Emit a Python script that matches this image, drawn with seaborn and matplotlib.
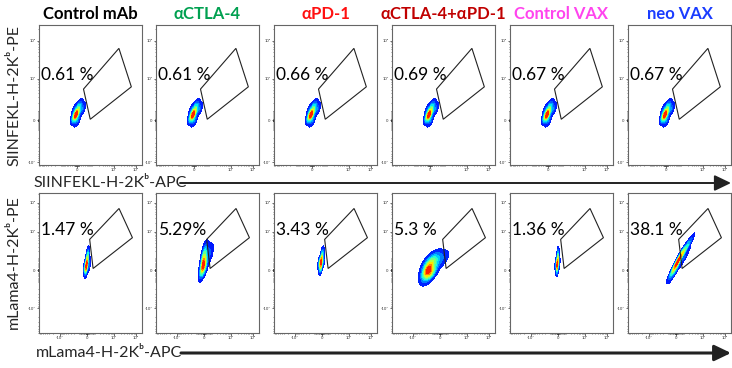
import numpy as np
import matplotlib
matplotlib.use("Agg")
import matplotlib.pyplot as plt
from matplotlib.colors import ListedColormap
from matplotlib.patches import Polygon, FancyArrowPatch
import seaborn as sns

# ---------------- data ----------------
groups = ["Control mAb", "αCTLA-4", "αPD-1", "αCTLA-4+αPD-1", "Control VAX", "neo VAX"]
group_colors = ["#000000", "#00a050", "#ff1010", "#c00000", "#ff44ee", "#1a3cff"]
top_pct = ["0.61 %", "0.61 %", "0.66 %", "0.69 %", "0.67 %", "0.67 %"]
bot_pct = ["1.47 %", "5.29%", "3.43 %", "5.3 %", "1.36 %", "38.1 %"]

top_x_label = "SIINFEKL-H-2Kᵇ-APC"
top_y_label = "SIINFEKL-H-2Kᵇ-PE"
bot_x_label = "mLama4-H-2Kᵇ-APC"
bot_y_label = "mLama4-H-2Kᵇ-PE"

# gates (fluorescence units)
top_gate_x = [310, 16800, 62000, 780]
top_gate_y = [5200, 63000, 6000, 100]
bot_gate_x = [330, 16800, 70000, 780]
bot_gate_y = [5400, 64000, 6200, 120]

# representative events (fluorescence units) with weights
top_ev_x = [-37, -93, 18, 46, 112, 243, -74]
top_ev_y = [486, 372, 0, 973, 1586, 1196, 1105]
top_ev_w = [4, 1.5, 1, 2, 1.2, 1, 0.8]

b1_x = [-76, 0, 76, 101, -256, 256, -76]
b1_y = [263, 649, 1158, 1663, 218, 448, 0]
b1_w = [4, 2.5, 1.5, 0.8, 1, 1, 1]
b2_x = [-76, -51, 0, 127, 525, 886, -204, 204]
b2_y = [263, 703, 1338, 2262, 1847, 1754, 0, 331]
b2_w = [4, 2.5, 1.5, 1, 0.8, 0.6, 1, 1]
b3_x = [-127, -127, 0, 51, -308, 152]
b3_y = [572, 174, 1057, 1754, 572, 703]
b3_w = [4, 1.5, 2, 1, 1, 1]
b4_x = [-1796, -1796, -2052, -985, -256, 388, -985]
b4_y = [0, -448, 448, 842, 932, 932, -108]
b4_w = [4, 1.2, 1, 1.5, 1, 0.5, 1.5]
b5_x = [-76, -76, 0, 0, -230, 127]
b5_y = [448, 108, 993, 1663, 497, 572]
b5_w = [4, 1.5, 2, 0.8, 0.8, 0.8]
b6_x = [-51, -127, 204, 581, 1163, 1946, 610, 1111]
b6_y = [263, -108, 703, 1262, 2151, 3503, 1573, 1108]
b6_w = [4, 1.2, 2.5, 2, 1.5, 1, 0.8, 0.8]
bot_events = [(b1_x, b1_y, b1_w), (b2_x, b2_y, b2_w), (b3_x, b3_y, b3_w),
              (b4_x, b4_y, b4_w), (b5_x, b5_y, b5_w), (b6_x, b6_y, b6_w)]

# display (arcsinh) cofactors and axis limits
top_cx, top_cy = 400, 1600
bot_cx, bot_cy = 1100, 940
top_xlim, top_ylim = (-1.05e4, 1.9e5), (-1.2e4, 2.6e5)
bot_xlim, bot_ylim = (-9e4, 1.94e5), (-7.1e4, 2.2e5)

# ---------------- style ----------------
sns.set_theme(style="white")
plt.rcParams['font.family'] = ['Lato', 'DejaVu Sans']

jet = ListedColormap(plt.cm.jet(np.linspace(0.12, 0.93, 256)))


def T(v, c):
    return np.arcsinh(np.asarray(v, dtype=float) / c) / np.log(10)


W, H = 732, 368
fig = plt.figure(figsize=(W / 100, H / 100), dpi=100)

lefts = [39, 156, 274, 392, 510, 628]
pw = 103
rows = [(25, 165), (193, 333)]

minor_vals = np.array([m * 10 ** k for k in range(1, 6) for m in range(1, 10)], dtype=float)
minor_vals = np.concatenate([-minor_vals, [0], minor_vals])


def style_axis(ax, cx, cy, xlim, ylim, xt, yt):
    ax.set_xlim(T(xlim, cx))
    ax.set_ylim(T(ylim, cy))
    tick_txt = {-1e4: "-10⁴", 0: "0", 1e4: "10⁴", 1e5: "10⁵"}
    ax.set_xticks(T(xt, cx))
    ax.set_xticklabels([tick_txt[v] for v in xt])
    ax.set_yticks(T(yt, cy))
    ax.set_yticklabels([tick_txt[v] for v in yt])
    mx = T(minor_vals, cx)
    my = T(minor_vals, cy)
    lx, ly = T(xlim, cx), T(ylim, cy)
    ax.set_xticks(mx[(mx > lx[0]) & (mx < lx[1])], minor=True)
    ax.set_yticks(my[(my > ly[0]) & (my < ly[1])], minor=True)
    ax.tick_params(which='major', direction='out', length=1.8, width=0.5,
                   labelsize=3, pad=0.6, colors='#333333',
                   bottom=True, left=True)
    ax.tick_params(which='minor', direction='out', length=1.0, width=0.4,
                   colors='#333333', bottom=True, left=True)
    for s in ax.spines.values():
        s.set_color('#666666')
        s.set_linewidth(0.8)
    ax.set_xlabel("")
    ax.set_ylabel("")


for r, (yt_px, yb_px) in enumerate(rows):
    for i in range(6):
        ax = fig.add_axes([lefts[i] / W, 1 - yb_px / H, pw / W, (yb_px - yt_px) / H])
        if r == 0:
            cx, cy = top_cx, top_cy
            ex, ey, ew = top_ev_x, top_ev_y, top_ev_w
            gx, gy = top_gate_x, top_gate_y
            xlim, ylim = top_xlim, top_ylim
            pct = top_pct[i]
            xt = [0, 1e4, 1e5]
        else:
            cx, cy = bot_cx, bot_cy
            ex, ey, ew = bot_events[i]
            gx, gy = bot_gate_x, bot_gate_y
            xlim, ylim = bot_xlim, bot_ylim
            pct = bot_pct[i]
            xt = [-1e4, 0, 1e4, 1e5]
        sns.kdeplot(x=T(ex, cx), y=T(ey, cy), weights=ew, fill=True, cmap=jet,
                    levels=10, thresh=0.03, bw_method=0.8, gridsize=250, ax=ax)
        ax.add_patch(Polygon(np.column_stack([T(gx, cx), T(gy, cy)]), closed=True,
                             fill=False, edgecolor='#222222', linewidth=0.8))
        style_axis(ax, cx, cy, xlim, ylim, xt, [-1e4, 0, 1e4, 1e5])
        ax.text(0.02, 0.64 if r == 0 else 0.735, pct, transform=ax.transAxes,
                ha='left', va='center', fontsize=12.5, color='black')
        if r == 0:
            fig.text((lefts[i] + pw / 2) / W, 1 - 14 / H, groups[i], ha='center',
                     va='center', fontsize=12, fontweight='bold', color=group_colors[i])

# axis labels
fig.text(14 / W, 1 - 95 / H, top_y_label, rotation=90, ha='center', va='center', fontsize=11.5)
fig.text(14 / W, 1 - 262 / H, bot_y_label, rotation=90, ha='center', va='center', fontsize=11.5)
fig.text(33 / W, 1 - 183 / H, top_x_label, ha='left', va='center', fontsize=11.5)
fig.text(36 / W, 1 - 353 / H, bot_x_label, ha='left', va='center', fontsize=11.5)

for x0, yy, lw in [(180, 183, 1.4), (181, 353, 2.2)]:
    fig.add_artist(FancyArrowPatch((x0 / W, 1 - yy / H), (731 / W, 1 - yy / H),
                                   transform=fig.transFigure,
                                   arrowstyle='-|>,head_length=1.0,head_width=0.48',
                                   mutation_scale=10, linewidth=lw, color='#222222',
                                   shrinkA=0, shrinkB=0))

fig.savefig("out.png", dpi=100)
